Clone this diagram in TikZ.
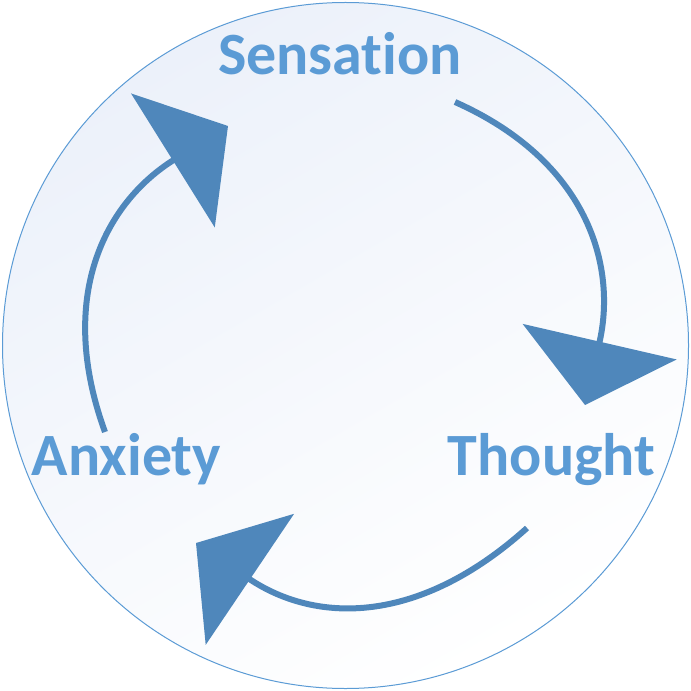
\documentclass[tikz,border=0pt]{standalone}
\usepackage{fontspec}
\setmainfont[Ligatures=NoCommon]{Carlito}
\usetikzlibrary{arrows.meta}

\tikzset{
  cyclelabel/.style={anchor=base, font=\bfseries\fontsize{45}{54}\selectfont, color={rgb, 255:red, 91; green, 155; blue, 213 }},
  cyclearrow/.style={line width=4.5pt, color={rgb, 255:red, 79; green, 135; blue, 187 }, -{Triangle[length=48.75pt,width=117.75pt]}, looseness=1.12},
}

\begin{document}
\begin{tikzpicture}[x=0.75pt,y=0.75pt,yscale=-1,xscale=1]
%set diagram to 691 x 691
\path (0,0) rectangle (691,691);

%Shape: Circle [id:outer]
\draw [color={rgb, 255:red, 91; green, 155; blue, 213 }, line width=0.75pt, top color={rgb, 255:red, 236; green, 241; blue, 250 }, bottom color=white, shading angle=30] (345.5,345.5) circle [radius=343];

%Arrow ends
\coordinate (s1) at (455,102);
\coordinate (t1) at (585,405);
\coordinate (s2) at (527,528);
\coordinate (t2) at (196,543);
\coordinate (s3) at (105,432);
\coordinate (t3) at (228,126);

%Curve Lines [id:sensation-thought]
\draw [cyclearrow] (s1) to[out=24,in=283] (t1);
%Curve Lines [id:thought-anxiety]
\draw [cyclearrow] (s2) to[out=138,in=34] (t2);
%Curve Lines [id:anxiety-sensation]
\draw [cyclearrow] (s3) to[out=250,in=148] (t3);

% Text Node
\draw (340,75) node (sensation) [cyclelabel] {Sensation};
% Text Node
\draw (551.5,475) node (thought) [cyclelabel] {Thought};
% Text Node
\draw (126.5,475) node (anxiety) [cyclelabel] {Anxiety};

\end{tikzpicture}
\end{document}
